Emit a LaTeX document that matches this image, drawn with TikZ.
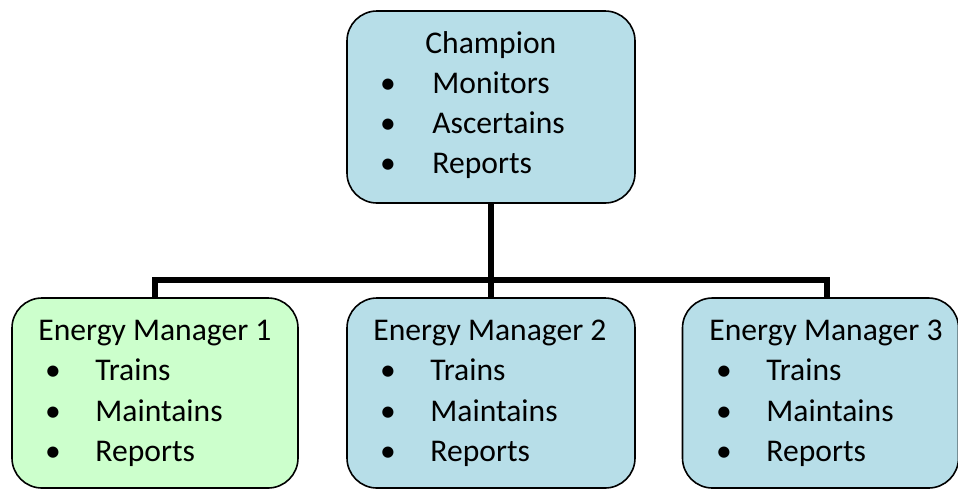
\documentclass[tikz,border=0pt]{standalone}
\usepackage{fontspec}
\setmainfont{Carlito}
\definecolor{aqua}{HTML}{B7DEE8}
\definecolor{mint}{HTML}{CCFFCC}
\begin{document}
\begin{tikzpicture}[x=0.5pt,y=-0.5pt,
  box/.style={draw=black,line width=0.8pt,rounded corners=15pt,inner sep=0pt},
  conn/.style={draw=black,line width=3pt},
  txt/.style={inner sep=0pt,anchor=base west,font=\fontsize{15.8pt}{19pt}\selectfont},
  bul/.style={inner sep=0pt,anchor=base,font=\fontsize{15.8pt}{19pt}\selectfont}]
\useasboundingbox (0,0) rectangle (958,489);
% boxes
\node[box,fill=aqua,minimum width=144pt,minimum height=96pt] (top) at (491,107) {};
\node[box,fill=mint,minimum width=143pt,minimum height=95pt] (b1) at (155,393) {};
\node[box,fill=aqua,minimum width=144pt,minimum height=95pt] (b2) at (491,393) {};
\node[box,fill=aqua,minimum width=138pt,minimum height=95pt] (b3) at (820.5,393) {};
% connectors
\coordinate (bar) at (491,279.5);
\coordinate (d3) at (827,298);
\draw[conn] (top.south) -- (bar);
\draw[conn,line join=miter] (b1.north) |- (bar) -| (d3);
\draw[conn] (bar) -- (b2.north);
% top text
\node[txt] (t0) at (425,53.5) {Champion};
\foreach \i/\w in {1/Monitors,2/Ascertains,3/Reports}{
  \node[bul] (tb\i) at (388,53.5+40*\i) {•};
  \node[txt] (tt\i) at (432,53.5+40*\i) {\w};
}
% bottom texts
\foreach \b/\l/\n in {1/12/1,2/347/2,3/683/3}{
  \node[txt] (h\b) at (\l+26,340) {Energy Manager \n};
  \foreach \i/\w in {1/Trains,2/Maintains,3/Reports}{
    \node[bul] (bb\b\i) at (\l+41,340+40.6*\i) {•};
    \node[txt] (bt\b\i) at (\l+83,340+40.6*\i) {\w};
  }
}
\end{tikzpicture}
\end{document}
